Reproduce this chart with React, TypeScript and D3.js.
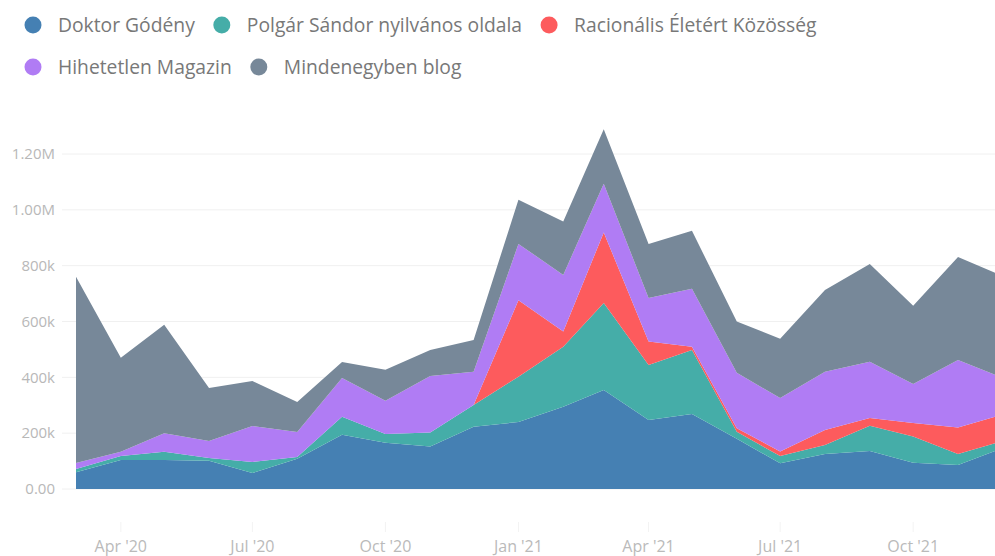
import React, { useEffect, useRef } from "react";
import * as d3 from "d3";

// monthly reach, stacked bottom -> top
const months = [
  "2020-03-01", "2020-04-01", "2020-05-01", "2020-06-01", "2020-07-01", "2020-08-01",
  "2020-09-01", "2020-10-01", "2020-11-01", "2020-12-01", "2021-01-01", "2021-02-01",
  "2021-03-01", "2021-04-01", "2021-05-01", "2021-06-01", "2021-07-01", "2021-08-01",
  "2021-09-01", "2021-10-01", "2021-11-01", "2021-12-01",
];

const seriesNames = [
  "Doktor Gódény",
  "Polgár Sándor nyilvános oldala",
  "Racionális Életért Közösség",
  "Hihetetlen Magazin",
  "Mindenegyben blog",
];
const seriesColors = ["#4580b3", "#45ada8", "#fd5b5d", "#b07cf4", "#778899"];

// values in thousands
const doktorGodeny = [60, 104, 104, 101, 57, 108, 194, 166, 152, 223, 240, 295, 355, 247, 269, 180, 92, 125, 136, 94, 86, 145];
const polgarSandor = [12, 14, 29, 10, 40, 7, 65, 31, 50, 78, 162, 215, 311, 197, 229, 25, 26, 33, 91, 94, 39, 26];
const racionalis = [0, 0, 0, 0, 0, 0, 0, 0, 0, 0, 274, 54, 253, 84, 12, 13, 16, 53, 27, 48, 95, 94];
const hihetetlen = [21, 15, 67, 61, 129, 89, 139, 119, 203, 119, 202, 203, 174, 156, 207, 198, 192, 209, 202, 140, 242, 135];
const mindenegyben = [667, 337, 388, 190, 161, 108, 57, 111, 93, 114, 158, 191, 196, 194, 208, 184, 212, 293, 350, 280, 369, 365];

const yTicks = [0, 200000, 400000, 600000, 800000, 1000000, 1200000];
const yTickLabels = ["0.00", "200k", "400k", "600k", "800k", "1.00M", "1.20M"];
const xTicks = ["2020-04-01", "2020-07-01", "2020-10-01", "2021-01-01", "2021-04-01", "2021-07-01", "2021-10-01"];
const xTickLabels = ["Apr '20", "Jul '20", "Oct '20", "Jan '21", "Apr '21", "Jul '21", "Oct '21"];

const width = 995;
const height = 556;
const font = "'Segoe UI', 'Open Sans', 'Noto Sans', sans-serif";

const App = () => {
  const ref = useRef<SVGSVGElement>(null);

  useEffect(() => {
    const svg = d3.select(ref.current);
    svg.selectAll("*").remove();

    const parse = d3.timeParse("%Y-%m-%d");
    const allSeries = [doktorGodeny, polgarSandor, racionalis, hihetetlen, mindenegyben];
    const rows = months.map((m, i) => {
      const row: any = { date: parse(m) };
      allSeries.forEach((s, k) => (row[k] = s[i] * 1000));
      return row;
    });

    const x = d3
      .scaleTime()
      .domain([parse("2020-03-01"), parse("2021-11-01")])
      .range([76, 958]);
    const y = d3.scaleLinear().domain([0, 1200000]).range([489, 154]);

    svg.append("rect").attr("width", width).attr("height", height).attr("fill", "#fff");

    // gridlines + y labels
    const grid = svg.append("g");
    grid
      .selectAll("line")
      .data(yTicks)
      .join("line")
      .attr("x1", 62)
      .attr("x2", width)
      .attr("y1", (d) => y(d))
      .attr("y2", (d) => y(d))
      .attr("stroke", "#f0f0f0")
      .attr("stroke-width", 1);
    grid
      .selectAll("text")
      .data(yTicks)
      .join("text")
      .attr("x", 55)
      .attr("y", (d) => y(d))
      .attr("dy", "0.35em")
      .attr("text-anchor", "end")
      .attr("font-family", font)
      .attr("font-size", 15)
      .attr("fill", "#b8b8b8")
      .text((d, i) => yTickLabels[i]);

    // stacked areas
    const stacked = d3.stack().keys(d3.range(allSeries.length) as any)(rows);
    const area = d3
      .area<any>()
      .x((d) => x(d.data.date))
      .y0((d) => y(d[0]))
      .y1((d) => y(d[1]));
    svg
      .append("g")
      .selectAll("path")
      .data(stacked)
      .join("path")
      .attr("fill", (d, i) => seriesColors[i])
      .attr("d", area as any);

    // x axis labels
    const xg = svg.append("g");
    xg.selectAll("line")
      .data(xTicks)
      .join("line")
      .attr("x1", (d) => x(parse(d)))
      .attr("x2", (d) => x(parse(d)))
      .attr("y1", 522)
      .attr("y2", 532)
      .attr("stroke", "#f3f3f3");
    xg.selectAll("text")
      .data(xTicks)
      .join("text")
      .attr("x", (d) => x(parse(d)))
      .attr("y", 552)
      .attr("text-anchor", "middle")
      .attr("font-family", font)
      .attr("font-size", 16)
      .attr("fill", "#bababa")
      .text((d, i) => xTickLabels[i]);

    // legend, flowing left to right and wrapping
    const legend = svg.append("g");
    let lx = 24;
    let ly = 25;
    seriesNames.forEach((name, i) => {
      const item = legend.append("g");
      const t = item
        .append("text")
        .attr("font-family", font)
        .attr("font-size", 19.3)
        .attr("fill", "#787878")
        .attr("dy", "0.35em")
        .text(name);
      const tw = (t.node() as SVGTextElement).getComputedTextLength();
      const itemW = 34 + tw;
      if (lx + itemW > width - 20) {
        lx = 24;
        ly += 42;
      }
      item
        .append("circle")
        .attr("cx", lx + 9)
        .attr("cy", ly)
        .attr("r", 8.5)
        .attr("fill", seriesColors[i]);
      t.attr("x", lx + 34).attr("y", ly);
      lx += itemW + 18;
    });
  }, []);

  return (
    <div style={{ position: "absolute", left: 0, top: 0, width, height }}>
      <svg ref={ref} width={width} height={height} style={{ display: "block" }} />
    </div>
  );
};

export default App;
